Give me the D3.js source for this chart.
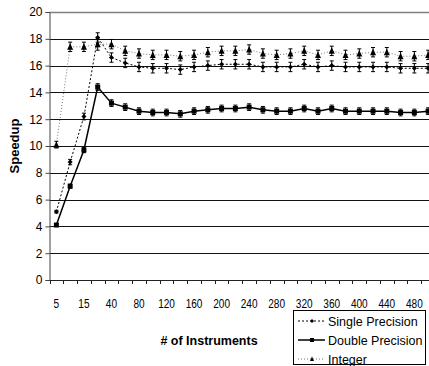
<!DOCTYPE html>
<html>
<head>
<meta charset="utf-8">
<script src="https://cdn.jsdelivr.net/npm/d3@7"></script>
<style>
  body { margin: 0; background: #fff; }
  svg { display: block; font-family: Arial, "Liberation Sans", sans-serif; }
</style>
</head>
<body>
<svg id="chart" width="429" height="366"></svg>
<script>
// categories (# of instruments)
const instruments = [5, 10, 15, 20, 40, 60, 80, 100, 120, 140, 160, 180, 200, 220,
  240, 260, 280, 300, 320, 340, 360, 380, 400, 420, 440, 460, 480, 500];

const singlePrecision = [5.1, 8.8, 12.2, 18.1, 16.6, 16.2, 15.9, 15.8, 15.8, 15.7, 15.9, 16.0,
  16.1, 16.1, 16.1, 15.9, 15.9, 15.9, 16.1, 15.9, 16.0, 15.9, 15.9, 15.9, 15.9, 15.8, 15.8, 15.8];
const doublePrecision = [4.1, 7.0, 9.7, 14.4, 13.2, 12.9, 12.6, 12.5, 12.5, 12.4, 12.6, 12.7,
  12.8, 12.8, 12.9, 12.7, 12.6, 12.6, 12.8, 12.6, 12.8, 12.6, 12.6, 12.6, 12.6, 12.5, 12.5, 12.6];
const integer = [10.1, 17.4, 17.4, 17.6, 17.6, 17.1, 16.9, 16.8, 16.8, 16.7, 16.8, 17.0,
  17.1, 17.1, 17.2, 16.9, 16.8, 16.9, 17.1, 16.8, 17.1, 16.8, 16.9, 17.0, 17.0, 16.7, 16.7, 16.8];

const singleErr = [0.1, 0.2, 0.25, 0.35, 0.35, 0.35, 0.35, 0.35, 0.35, 0.35, 0.35, 0.35,
  0.35, 0.35, 0.35, 0.35, 0.35, 0.35, 0.35, 0.35, 0.35, 0.35, 0.35, 0.35, 0.35, 0.35, 0.35, 0.35];
const doubleErr = [0.1, 0.15, 0.2, 0.25, 0.25, 0.25, 0.25, 0.25, 0.25, 0.25, 0.25, 0.25,
  0.25, 0.25, 0.25, 0.25, 0.25, 0.25, 0.25, 0.25, 0.25, 0.25, 0.25, 0.25, 0.25, 0.25, 0.25, 0.25];
const integerErr = [0.25, 0.35, 0.35, 0.45, 0.35, 0.35, 0.35, 0.35, 0.35, 0.35, 0.35, 0.35,
  0.35, 0.35, 0.35, 0.35, 0.35, 0.35, 0.35, 0.35, 0.35, 0.35, 0.35, 0.35, 0.35, 0.35, 0.35, 0.35];

const yTicks = [0, 2, 4, 6, 8, 10, 12, 14, 16, 18, 20];

const series = [
  { name: 'Single Precision', values: singlePrecision, err: singleErr, color: '#000', dash: '2,2', width: 1, marker: 'diamond' },
  { name: 'Double Precision', values: doublePrecision, err: doubleErr, color: '#000', dash: null, width: 1.5, marker: 'square' },
  { name: 'Integer', values: integer, err: integerErr, color: '#777', dash: '1,2', width: 1, marker: 'triangle' }
];

const svg = d3.select('#chart');
const plotLeft = 49.5, plotRight = 435, plotTop = 12, plotBottom = 280;

const x = d3.scaleBand().domain(instruments).range([plotLeft, plotRight]).padding(0);
const y = d3.scaleLinear().domain([0, 20]).range([plotBottom, plotTop]);

// gridlines
svg.append('g').selectAll('line')
  .data(yTicks.filter(d => d > 0))
  .join('line')
  .attr('x1', plotLeft).attr('x2', plotRight)
  .attr('y1', d => Math.round(y(d)) + 0.5).attr('y2', d => Math.round(y(d)) + 0.5)
  .attr('stroke', d => d === 20 ? '#808080' : '#111')
  .attr('stroke-width', d => d === 20 ? 1.5 : 1);

// y axis
const yAxis = svg.append('g')
  .attr('transform', `translate(${plotLeft},0)`)
  .call(d3.axisLeft(y).tickValues(yTicks).tickSize(4).tickPadding(3));
yAxis.select('.domain').attr('stroke', '#444');
yAxis.selectAll('.tick line').attr('stroke', '#444');
yAxis.selectAll('text').attr('font-size', 12).attr('fill', '#000')
  .attr('font-family', 'Arial, "Liberation Sans", sans-serif');

// x axis: ticks between categories
const xg = svg.append('g');
xg.append('line').attr('x1', plotLeft).attr('x2', plotRight)
  .attr('y1', plotBottom + 0.5).attr('y2', plotBottom + 0.5).attr('stroke', '#222');
xg.selectAll('line.tk')
  .data(instruments)
  .join('line').attr('class', 'tk')
  .attr('x1', d => Math.round(x(d)) + 0.5).attr('x2', d => Math.round(x(d)) + 0.5)
  .attr('y1', plotBottom).attr('y2', plotBottom + 4)
  .attr('stroke', '#222');
xg.selectAll('text')
  .data(instruments.filter((d, i) => i % 2 === 0))
  .join('text')
  .attr('transform', d => `translate(${x(d) + x.bandwidth() / 2},${plotBottom + 28}) scale(0.84,1)`)
  .attr('text-anchor', 'middle')
  .attr('font-size', 12)
  .text(d => d);

// lines
const line = d3.line().x((d, i) => x(instruments[i]) + x.bandwidth() / 2).y(d => y(d));

series.slice().reverse().forEach(s => {
  svg.append('path')
    .datum(s.values)
    .attr('fill', 'none')
    .attr('stroke', s.color)
    .attr('stroke-width', s.width)
    .attr('stroke-dasharray', s.dash)
    .attr('d', line);
});

function drawMarker(g, type, cx, cy, size) {
  if (type === 'diamond') {
    g.append('path').attr('d', `M${cx},${cy - size}L${cx + size},${cy}L${cx},${cy + size}L${cx - size},${cy}Z`).attr('fill', '#000');
  } else if (type === 'square') {
    g.append('rect').attr('x', cx - size).attr('y', cy - size).attr('width', size * 2).attr('height', size * 2).attr('fill', '#000');
  } else {
    g.append('path').attr('d', `M${cx},${cy - size - 0.5}L${cx + size},${cy + size}L${cx - size},${cy + size}Z`).attr('fill', '#000');
  }
}

// error bars + markers
series.forEach(s => {
  const g = svg.append('g');
  s.values.forEach((v, i) => {
    const cx = x(instruments[i]) + x.bandwidth() / 2;
    const e = s.err[i];
    const y0 = y(v - e), y1 = y(v + e);
    g.append('line').attr('x1', cx).attr('x2', cx).attr('y1', y0).attr('y2', y1).attr('stroke', '#000').attr('stroke-width', 1);
    g.append('line').attr('x1', cx - 2).attr('x2', cx + 2).attr('y1', y0).attr('y2', y0).attr('stroke', '#000').attr('stroke-width', 1);
    g.append('line').attr('x1', cx - 2).attr('x2', cx + 2).attr('y1', y1).attr('y2', y1).attr('stroke', '#000').attr('stroke-width', 1);
    drawMarker(g, s.marker, cx, y(v), s.marker === 'square' ? 2.5 : (s.marker === 'triangle' ? 3 : 2.5));
  });
});

// axis titles
svg.append('text')
  .attr('x', 209).attr('y', 345)
  .attr('text-anchor', 'middle')
  .attr('font-size', 12.5).attr('font-weight', 'bold')
  .text('# of Instruments');

svg.append('text')
  .attr('transform', 'translate(19,146) rotate(-90)')
  .attr('text-anchor', 'middle')
  .attr('font-size', 13).attr('font-weight', 'bold')
  .text('Speedup');

// legend
const lg = svg.append('g').attr('transform', 'translate(293,310)');
lg.append('rect').attr('x', 0.5).attr('y', 0.5).attr('width', 132).attr('height', 54)
  .attr('fill', '#fff').attr('stroke', '#000').attr('stroke-width', 1);
series.forEach((s, i) => {
  const cy = 11 + i * 19;
  lg.append('line').attr('x1', 5).attr('x2', 32).attr('y1', cy).attr('y2', cy)
    .attr('stroke', s.color).attr('stroke-width', s.width).attr('stroke-dasharray', s.dash);
  drawMarker(lg, s.marker, 19, cy, 2);
  lg.append('text').attr('x', 35).attr('y', cy + 4.5)
    .attr('font-size', 12.5).text(s.name);
});
</script>
</body>
</html>
